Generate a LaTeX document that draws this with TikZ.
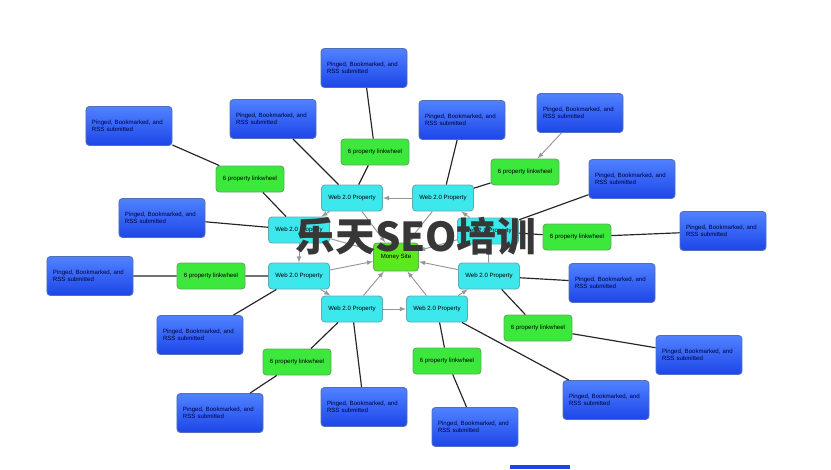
\documentclass[tikz,border=0pt]{standalone}
\usepackage{fontspec}
\setmainfont{Liberation Sans}
\newfontfamily\cjkfont{Noto Sans CJK SC}
\usetikzlibrary{arrows,shapes,positioning}
\definecolor{pingblue}{RGB}{28,70,232}
\definecolor{pingtop}{RGB}{80,130,255}
\definecolor{pingedge}{RGB}{85,110,185}
\definecolor{webcyan}{RGB}{60,232,236}
\definecolor{webedge}{RGB}{100,170,180}
\definecolor{wheelgreen}{RGB}{60,232,60}
\definecolor{wheeledge}{RGB}{95,170,95}
\definecolor{moneygreen}{RGB}{90,232,30}
\definecolor{feedgray}{RGB}{150,150,150}
\definecolor{markgray}{RGB}{55,55,55}
\newcommand{\pingedtext}{Pinged, Bookmarked, and\\RSS submitted}
\tikzset{
    basic/.style = {rectangle, rounded corners=3pt, line width=0.8pt, inner sep=1pt, font=\fontsize{5.2}{6}\selectfont},
    pinged/.style = {basic, draw=pingedge, top color=pingtop, bottom color=pingblue, text=black!75!blue,
        minimum width=2.58cm, minimum height=1.17cm, text width=2.22cm, align=left},
    webprop/.style = {basic, draw=webedge, fill=webcyan, minimum width=1.83cm, minimum height=0.78cm},
    linkwheel/.style = {basic, draw=wheeledge, fill=wheelgreen, minimum width=2.04cm, minimum height=0.78cm},
    moneysite/.style = {basic, draw=wheeledge, fill=moneygreen, minimum width=1.35cm, minimum height=0.84cm},
    link/.style = {draw=black!85, line width=1pt},
    feed/.style = {->, draw=feedgray, line width=0.8pt}
}

\begin{document}
\begin{tikzpicture}[x=0.03cm, y=-0.03cm, >=latex]
    \useasboundingbox (0,0) rectangle (831,469);
    % the ring of web 2.0 properties
    \begin{scope}[every node/.style={webprop}]
        \node (w1) at (352,198) {Web 2.0 Property};
        \node (w2) at (443,198) {Web 2.0 Property};
        \node (w3) at (299,230) {Web 2.0 Property};
        \node (w4) at (488,231) {Web 2.0 Property};
        \node (w5) at (299,276) {Web 2.0 Property};
        \node (w6) at (489,276) {Web 2.0 Property};
        \node (w7) at (352,309) {Web 2.0 Property};
        \node (w8) at (437,309) {Web 2.0 Property};
    \end{scope}
    \node[moneysite] (money) at (396,257) {Money Site};
    % linkwheels
    \begin{scope}[every node/.style={linkwheel}]
        \node (g1) at (250,179) {6 property linkwheel};
        \node (g2) at (375,152) {6 property linkwheel};
        \node (g3) at (525,172) {6 property linkwheel};
        \node (g4) at (577,237) {6 property linkwheel};
        \node (g5) at (538,328) {6 property linkwheel};
        \node (g6) at (447,361) {6 property linkwheel};
        \node (g7) at (297,362) {6 property linkwheel};
        \node (g8) at (211,276) {6 property linkwheel};
    \end{scope}
    % outer boxes
    \begin{scope}[every node/.style={pinged}]
        \node (b1) at (129,126) {\pingedtext};
        \node (b2) at (273,119) {\pingedtext};
        \node (b3) at (364,68) {\pingedtext};
        \node (b4) at (462,120) {\pingedtext};
        \node (b5) at (580,113) {\pingedtext};
        \node (b6) at (632,179) {\pingedtext};
        \node (b7) at (723,231) {\pingedtext};
        \node (b8) at (612,283) {\pingedtext};
        \node (b9) at (699,355) {\pingedtext};
        \node (b10) at (606,400) {\pingedtext};
        \node (b11) at (475,427) {\pingedtext};
        \node (b12) at (364,407) {\pingedtext};
        \node (b13) at (220,413) {\pingedtext};
        \node (b14) at (200,335) {\pingedtext};
        \node (b15) at (90,276) {\pingedtext};
        \node (b16) at (162,218) {\pingedtext};
    \end{scope}
    \fill[pingblue] (510,465) rectangle (570,469);
    % links out
    \draw[link] (b2) -- (w1) (w1) -- (g2) (g2) -- (b3);
    \draw[link] (b4) -- (w2) (w2) -- (g3);
    \draw[link] (b6) -- (w4) (w4) -- (g4) (g4) -- (b7);
    \draw[link] (b8) -- (w6) (w6) -- (g5) (g5) -- (b9);
    \draw[link] (b10) -- (w8) (w8) -- (g6) (g6) -- (b11);
    \draw[link] (b12) -- (w7) (w7) -- (g7) (g7) -- (b13);
    \draw[link] (b14) -- (w5) (w5) -- (g8) (g8) -- (b15);
    \draw[link] (b16) -- (w3) (w3) -- (g1) (g1) -- (b1);
    \draw[feed] (b5) -- (g3);
    % wheel and money site
    \draw[feed] (w2) -- (w1);
    \draw[feed] (w1) -- (w3);
    \draw[feed] (w3) -- (w5);
    \draw[feed] (w5) -- (w7);
    \draw[feed] (w7) -- (w8);
    \draw[feed] (w8) -- (w6);
    \draw[feed] (w6) -- (w4);
    \draw[feed] (w4) -- (w2);
    \draw[feed] (w1) -- (money);
    \draw[feed] (w2) -- (money);
    \draw[feed] (w3) -- (money);
    \draw[feed] (w4) -- (money);
    \draw[feed] (w5) -- (money);
    \draw[feed] (w6) -- (money);
    \draw[feed] (w7) -- (money);
    \draw[feed] (w8) -- (money);
    % watermark
    \node[text=markgray, font=\cjkfont\bfseries\fontsize{34}{36}\selectfont] (mark) at (416,236) {乐天SEO培训};
\end{tikzpicture}
\end{document}
